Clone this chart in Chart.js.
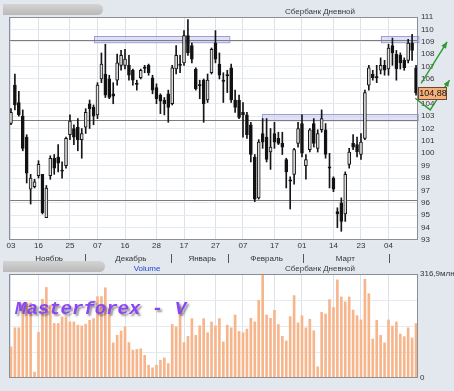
<!DOCTYPE html>
<html>
<head>
<meta charset="utf-8">
<script src="https://cdn.jsdelivr.net/npm/chart.js@4.4.1/dist/chart.umd.min.js"></script>
<style>
    body { margin: 0; width: 454px; height: 391px; overflow: hidden; position: relative; background: #e3e8ef; font-family: 'Liberation Sans', Arial, sans-serif; }
    .box { position: absolute; left: 0; width: 454px; }
    .tab { position: absolute; left: 3px; height: 11px; border-radius: 0 6px 6px 0; background: linear-gradient(#d4d4d4, #b9b9b9); }
    .ttl { position: absolute; font-size: 8px; color: #3a3a3a; white-space: nowrap; transform: translateX(-50%); }
    #wm { position: absolute; left: 15px; top: 299px; font: italic bold 19px 'Liberation Mono', 'Courier New', monospace; line-height: 20px; color: #8a46f5; text-shadow: 2px 2px 2px rgba(60,60,60,0.55); white-space: pre; }
</style>
</head>
<body>
<div class="box" style="top:0;height:266px"><canvas id="priceChart" width="454" height="266"></canvas></div>
<div class="box" style="top:262px;height:129px"><canvas id="volChart" width="454" height="129"></canvas></div>
<div class="tab" style="top:4px;width:100px"></div>
<div class="tab" style="top:261px;width:102px"></div>
<div class="ttl" style="left:320px;top:7px">Сбербанк Дневной</div>
<div class="ttl" style="left:320px;top:264px">Сбербанк Дневной</div>
<div class="ttl" style="left:147px;top:264px;color:#2447d0">Volume</div>
<div id="wm">Masterforex - V</div>
<script>
// daily candles
const open = [102.4,105.5,104.1,103.0,101.3,97.1,97.3,98.2,98.3,94.8,
    98.2,99.6,99.7,98.6,99.0,101.5,102.0,102.1,101.1,102.1,
    104.0,103.7,103.1,106.0,106.4,106.0,104.8,105.9,107.1,107.1,
    107.1,106.7,105.6,106.1,106.9,107.1,106.1,105.3,104.7,104.3,
    104.8,104.0,106.8,107.2,107.3,109.5,108.7,106.8,105.5,105.9,
    104.3,106.5,108.9,107.2,105.9,106.3,106.9,104.3,104.3,103.3,
    103.1,102.3,99.7,96.4,101.6,101.3,100.1,101.6,101.2,100.8,
    99.5,97.8,98.3,100.8,102.4,99.0,100.3,102.4,100.4,101.9,
    101.9,98.9,98.0,95.3,96.0,95.1,99.1,100.8,100.7,99.9,
    101.2,105.5,106.4,106.2,106.7,107.1,106.8,108.7,108.0,107.9,
    107.5,107.5,108.9,106.9];
const high = [103.6,106.4,105.0,103.5,101.5,98.3,97.9,99.4,98.3,97.4,
    99.8,99.9,100.7,99.3,101.3,103.1,102.3,102.8,102.0,103.6,
    104.3,103.9,105.7,108.1,108.8,106.3,105.7,108.0,108.3,108.4,
    107.9,106.8,105.9,106.8,107.1,107.2,106.3,105.6,104.8,104.5,
    105.1,107.1,108.7,107.9,109.9,110.8,108.9,106.9,105.9,106.0,
    106.4,108.5,109.9,108.1,106.5,106.7,107.2,105.1,104.7,104.1,
    103.3,102.5,99.9,101.1,102.8,102.8,102.0,102.5,101.7,101.7,
    99.6,98.1,100.4,102.5,103.1,99.9,102.0,102.8,101.9,103.5,
    102.4,100.0,98.1,95.6,96.4,98.5,100.4,101.5,101.3,101.6,
    105.1,107.1,106.7,107.1,107.7,107.5,108.8,109.3,108.3,108.1,
    107.7,109.2,109.6,107.1];
const low = [102.3,103.5,103.0,100.2,97.6,95.9,97.2,98.0,95.1,94.8,
    97.9,98.3,98.5,98.0,98.8,101.1,100.7,100.2,99.6,101.6,
    102.0,102.3,102.8,105.7,104.5,104.4,104.0,105.5,106.7,106.8,
    105.9,105.5,105.1,106.0,106.5,106.3,104.8,104.0,103.2,103.1,
    102.5,103.9,106.4,106.5,107.1,107.9,107.3,105.1,104.4,102.5,
    104.1,106.4,107.3,106.0,104.1,104.9,104.1,103.3,102.8,101.3,
    101.2,99.3,96.1,96.3,100.4,99.3,98.7,100.4,100.7,99.9,
    97.2,95.5,97.5,100.5,99.7,97.9,100.1,100.5,100.1,101.7,
    99.6,97.2,96.9,94.0,93.7,94.5,98.8,100.3,99.7,99.5,
    101.1,105.1,105.9,105.7,106.4,106.3,106.3,107.1,105.9,106.8,
    106.7,107.3,107.5,104.7];
const close = [103.3,103.9,103.1,100.4,98.4,98.0,97.7,99.1,95.2,97.2,
    99.6,98.8,99.2,98.5,101.2,102.6,101.3,101.1,101.6,103.3,
    103.6,103.0,105.5,107.2,104.7,104.5,104.6,107.3,107.9,107.6,
    106.3,105.9,105.5,106.7,106.9,106.5,105.1,104.4,104.2,104.0,
    103.7,106.9,107.9,107.1,109.5,108.1,107.6,105.2,105.4,104.0,
    105.9,108.4,107.6,106.3,105.8,106.2,104.3,103.7,102.9,103.1,
    101.5,99.9,96.3,100.9,100.9,99.5,100.5,100.9,100.8,100.5,
    98.5,97.7,100.3,102.0,100.0,99.5,101.9,100.8,101.6,102.8,
    99.9,98.8,97.1,95.1,94.5,98.3,100.1,100.5,100.1,100.9,
    104.9,106.9,106.1,106.1,107.1,106.7,108.5,108.1,106.8,107.3,
    106.9,108.9,108.3,104.88];
// volume, millions
const volume = [95,153,153,227,229,229,18,139,240,276,
    222,166,166,186,186,171,171,161,159,164,
    176,181,248,248,275,212,107,130,143,156,
    108,85,87,89,69,39,31,39,54,61,
    44,163,156,217,108,127,181,130,159,181,
    138,171,159,181,110,161,153,192,142,138,
    149,182,171,237,317,192,182,206,163,127,
    113,187,251,168,190,153,179,144,34,200,
    195,239,215,299,247,232,247,207,190,177,
    301,257,119,176,130,107,177,158,171,134,
    126,153,122,166];
const volMax = 316.9;

// axis labels
const tickIdx = [0, 7, 15, 22, 29, 37, 44, 52, 59, 67, 74, 82, 89, 96];
const tickText = ['03', '16', '25', '07', '16', '28', '17', '27', '07', '17', '01', '14', '23', '04'];
const months = ['Ноябрь', 'Декабрь', 'Январь', 'Февраль', 'Март'];
const monthPos = [9.7, 30.5, 48.6, 65, 85];
const monthSep = [18.8, 40.7, 55.2, 74.3, 96.2];

// drawn levels and zones
const levels = [109.15, 102.7, 96.2];
const zones = [
    { from: 21.1, to: 55.5, lo: 108.95, hi: 109.45 },
    { from: 94, to: 103.6, lo: 108.95, hi: 109.45 },
    { from: 63.9, to: 103.6, lo: 102.65, hi: 103.15 }
];
// projection arrows, in (day index, price)
const arrows = [
    [[104.3, 105.64], [110.9, 109.0]],
    [[102.8, 104.44], [106.6, 103.5], [111.5, 105.9]]
];
const lastPrice = close[close.length - 1];

const FONT = 'Liberation Sans';
const days = open.map((_, i) => i);
const bodies = open.map((o, i) => {
    const c = close[i];
    return Math.abs(c - o) < 0.1 ? [o - 0.05, o + 0.05] : [o, c];
});
const wicks = low.map((l, i) => [l, high[i]]);
const bodyColors = open.map((o, i) => close[i] > o ? '#dedede' : '#111');

const gridX = c => tickIdx.includes(c.index) ? '#dbe2ec' : 'rgba(0,0,0,0)';

const panelBg = {
    id: 'panelBg',
    beforeDraw(chart) {
        const { ctx, chartArea: a } = chart;
        ctx.save();
        ctx.fillStyle = '#fff';
        ctx.fillRect(a.left, a.top, a.right - a.left, a.bottom - a.top);
        ctx.restore();
    },
    afterDraw(chart) {
        const { ctx, chartArea: a } = chart;
        ctx.save();
        ctx.strokeStyle = '#8a8f96';
        ctx.lineWidth = 1;
        ctx.strokeRect(a.left + 0.5, a.top + 0.5, a.right - a.left - 1, a.bottom - a.top - 1);
        ctx.restore();
    }
};

function arrowHead(ctx, x0, y0, x1, y1) {
    const ang = Math.atan2(y1 - y0, x1 - x0);
    ctx.beginPath();
    ctx.moveTo(x1, y1);
    ctx.lineTo(x1 - 7 * Math.cos(ang - 0.4), y1 - 7 * Math.sin(ang - 0.4));
    ctx.lineTo(x1 - 7 * Math.cos(ang + 0.4), y1 - 7 * Math.sin(ang + 0.4));
    ctx.closePath();
    ctx.fill();
}

const priceDecor = {
    id: 'priceDecor',
    beforeDatasetsDraw(chart) {
        const { ctx, chartArea: a, scales: { x, y } } = chart;
        ctx.save();
        zones.forEach(z => {
            const x0 = x.getPixelForValue(z.from), x1 = Math.min(x.getPixelForValue(z.to), a.right);
            const y0 = y.getPixelForValue(z.hi), y1 = y.getPixelForValue(z.lo);
            ctx.fillStyle = 'rgba(196,196,238,0.5)';
            ctx.fillRect(x0, y0, x1 - x0, y1 - y0);
            ctx.strokeStyle = '#9c9cd8';
            ctx.strokeRect(Math.round(x0) + 0.5, Math.round(y0) + 0.5, x1 - x0, y1 - y0);
        });
        ctx.strokeStyle = '#7d7d7d';
        ctx.lineWidth = 1;
        levels.forEach(v => {
            const py = Math.round(y.getPixelForValue(v)) + 0.5;
            ctx.beginPath();
            ctx.moveTo(a.left, py);
            ctx.lineTo(a.right, py);
            ctx.stroke();
        });
        ctx.restore();
    },
    afterDraw(chart) {
        const { ctx, chartArea: a, scales: { x, y } } = chart;
        ctx.save();
        // month row
        ctx.font = '8px ' + FONT;
        ctx.fillStyle = '#333';
        ctx.textAlign = 'center';
        ctx.textBaseline = 'middle';
        months.forEach((m, i) => ctx.fillText(m, x.getPixelForValue(monthPos[i]), 259));
        ctx.strokeStyle = '#555';
        monthSep.forEach(s => {
            const px = Math.round(x.getPixelForValue(s)) + 0.5;
            ctx.beginPath();
            ctx.moveTo(px, 254);
            ctx.lineTo(px, 263);
            ctx.stroke();
        });
        // projection arrows
        ctx.strokeStyle = '#2d9a2d';
        ctx.fillStyle = '#2d9a2d';
        ctx.lineWidth = 1.4;
        arrows.forEach(pts => {
            const p = pts.map(([i, v]) => [x.getPixelForValue(i), y.getPixelForValue(v)]);
            ctx.beginPath();
            p.forEach(([px, py], k) => k ? ctx.lineTo(px, py) : ctx.moveTo(px, py));
            ctx.stroke();
            const n = p.length;
            arrowHead(ctx, p[n - 2][0], p[n - 2][1], p[n - 1][0], p[n - 1][1]);
        });
        // last price tag
        const ty = Math.round(y.getPixelForValue(lastPrice)) + 1;
        ctx.fillStyle = '#f6b07c';
        ctx.fillRect(a.right, ty - 7, 29, 13);
        ctx.strokeStyle = '#6b4a30';
        ctx.lineWidth = 1;
        ctx.strokeRect(a.right + 0.5, ty - 6.5, 28, 12);
        ctx.fillStyle = '#111';
        ctx.font = '9px ' + FONT;
        ctx.textAlign = 'center';
        ctx.fillText(lastPrice.toFixed(2).replace('.', ','), a.right + 15, ty);
        ctx.restore();
    }
};

new Chart(document.getElementById('priceChart'), {
    type: 'bar',
    data: {
        labels: days,
        datasets: [
            {
                data: bodies,
                backgroundColor: bodyColors,
                borderColor: '#151515',
                borderWidth: 1,
                borderSkipped: false,
                barThickness: 3,
                grouped: false,
                order: 0
            },
            {
                data: wicks,
                backgroundColor: '#151515',
                barThickness: 1,
                grouped: false,
                order: 1
            }
        ]
    },
    options: {
        responsive: false,
        animation: false,
        layout: { padding: { left: 9, top: 17, right: 0, bottom: 0 } },
        plugins: { legend: { display: false }, tooltip: { enabled: false } },
        scales: {
            x: {
                offset: true,
                grid: { offset: false, color: gridX, drawTicks: false },
                border: { display: false },
                ticks: {
                    autoSkip: false, maxRotation: 0, padding: 1,
                    font: { size: 8, family: FONT }, color: '#333',
                    callback: (v, i) => {
                        const k = tickIdx.indexOf(i);
                        return k >= 0 ? tickText[k] : '';
                    }
                },
                afterFit: s => { s.height = 26; }
            },
            y: {
                position: 'right',
                min: 93,
                max: 111,
                grid: { color: '#e5eaf1', drawTicks: false },
                border: { display: false },
                ticks: { stepSize: 1, autoSkip: false, padding: 3, font: { size: 8, family: FONT }, color: '#333' },
                afterFit: s => { s.width = 36; }
            }
        }
    },
    plugins: [panelBg, priceDecor]
});

new Chart(document.getElementById('volChart'), {
    type: 'bar',
    data: {
        labels: days,
        datasets: [{
            data: volume,
            backgroundColor: '#f7b58c',
            barThickness: 2
        }]
    },
    options: {
        responsive: false,
        animation: false,
        layout: { padding: { left: 9, top: 12, right: 0, bottom: 0 } },
        plugins: { legend: { display: false }, tooltip: { enabled: false } },
        scales: {
            x: {
                offset: true,
                grid: { offset: false, color: gridX, drawTicks: false },
                border: { display: false },
                ticks: { display: false },
                afterFit: s => { s.height = 13; }
            },
            y: {
                position: 'right',
                min: 0,
                max: volMax,
                afterBuildTicks: s => {
                    s.ticks = [0, 1, 2, 3, 4].map(k => ({ value: volMax * k / 4 }));
                },
                grid: { color: '#e5eaf1', drawTicks: false },
                border: { display: false },
                ticks: {
                    autoSkip: false, padding: 2, font: { size: 8, family: FONT }, color: '#333',
                    callback: v => v === 0 ? '0' : (v === volMax ? '316,9млн' : '')
                },
                afterFit: s => { s.width = 36; }
            }
        }
    },
    plugins: [panelBg]
});
</script>
</body>
</html>
